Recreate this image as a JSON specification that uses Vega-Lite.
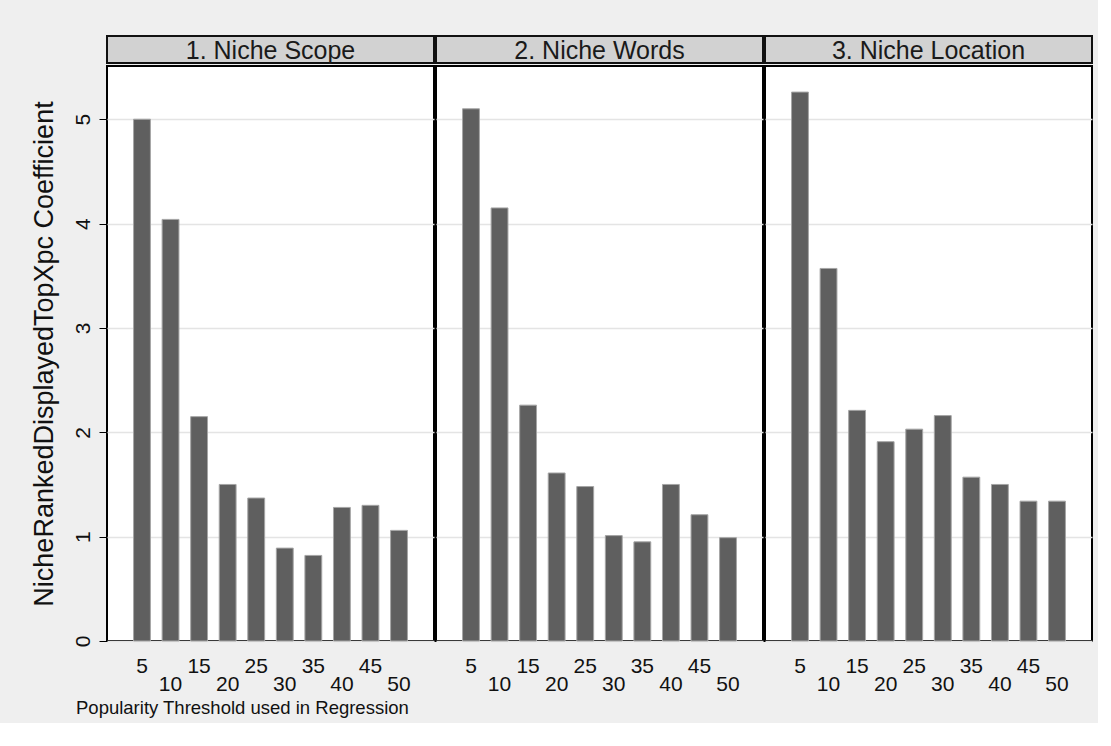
{
  "$schema": "https://vega.github.io/schema/vega-lite/v6.json",
  "background": "#efefef",
  "padding": {"left": 30, "top": 35, "right": 5, "bottom": 5},
  "config": {"font": "Liberation Sans", "view": {"stroke": null}},
  "datasets": {
    "panels": [
      {"panel": "1. Niche Scope"},
      {"panel": "2. Niche Words"},
      {"panel": "3. Niche Location"}
    ],
    "coef": [
      {"panel": "1. Niche Scope", "threshold": 5, "coef": 5.00},
      {"panel": "1. Niche Scope", "threshold": 10, "coef": 4.04},
      {"panel": "1. Niche Scope", "threshold": 15, "coef": 2.15},
      {"panel": "1. Niche Scope", "threshold": 20, "coef": 1.50},
      {"panel": "1. Niche Scope", "threshold": 25, "coef": 1.37},
      {"panel": "1. Niche Scope", "threshold": 30, "coef": 0.89},
      {"panel": "1. Niche Scope", "threshold": 35, "coef": 0.82},
      {"panel": "1. Niche Scope", "threshold": 40, "coef": 1.28},
      {"panel": "1. Niche Scope", "threshold": 45, "coef": 1.30},
      {"panel": "1. Niche Scope", "threshold": 50, "coef": 1.06},
      {"panel": "2. Niche Words", "threshold": 5, "coef": 5.10},
      {"panel": "2. Niche Words", "threshold": 10, "coef": 4.15},
      {"panel": "2. Niche Words", "threshold": 15, "coef": 2.26},
      {"panel": "2. Niche Words", "threshold": 20, "coef": 1.61},
      {"panel": "2. Niche Words", "threshold": 25, "coef": 1.48},
      {"panel": "2. Niche Words", "threshold": 30, "coef": 1.01},
      {"panel": "2. Niche Words", "threshold": 35, "coef": 0.95},
      {"panel": "2. Niche Words", "threshold": 40, "coef": 1.50},
      {"panel": "2. Niche Words", "threshold": 45, "coef": 1.21},
      {"panel": "2. Niche Words", "threshold": 50, "coef": 0.99},
      {"panel": "3. Niche Location", "threshold": 5, "coef": 5.26},
      {"panel": "3. Niche Location", "threshold": 10, "coef": 3.57},
      {"panel": "3. Niche Location", "threshold": 15, "coef": 2.21},
      {"panel": "3. Niche Location", "threshold": 20, "coef": 1.91},
      {"panel": "3. Niche Location", "threshold": 25, "coef": 2.03},
      {"panel": "3. Niche Location", "threshold": 30, "coef": 2.16},
      {"panel": "3. Niche Location", "threshold": 35, "coef": 1.57},
      {"panel": "3. Niche Location", "threshold": 40, "coef": 1.50},
      {"panel": "3. Niche Location", "threshold": 45, "coef": 1.34},
      {"panel": "3. Niche Location", "threshold": 50, "coef": 1.34}
    ]
  },
  "title": {
    "text": "Popularity Threshold used in Regression",
    "orient": "bottom",
    "anchor": "start",
    "frame": "bounds",
    "fontSize": 18.5,
    "fontWeight": "normal",
    "color": "#111111",
    "offset": 5,
    "dx": 46
  },
  "spacing": 0,
  "vconcat": [
    {
      "data": {"name": "panels"},
      "facet": {"column": {"field": "panel", "type": "nominal", "header": null}},
      "spacing": 0,
      "spec": {
        "width": 327,
        "height": 27,
        "view": {"fill": "#d2d2d2", "stroke": "#111111", "strokeWidth": 2},
        "mark": {"type": "text", "fontSize": 25, "color": "#1a1a1a", "dy": 1},
        "encoding": {"text": {"field": "panel", "type": "nominal"}}
      }
    },
    {
      "data": {"name": "coef"},
      "facet": {"column": {"field": "panel", "type": "nominal", "header": null}},
      "spacing": 0,
      "spec": {
        "width": 327,
        "height": 575,
        "view": {"fill": "#ffffff", "stroke": "#000000", "strokeWidth": 2},
        "mark": {"type": "bar", "color": "#5f5f5f", "stroke": "#a5a5a5", "strokeWidth": 1},
        "encoding": {
          "x": {
            "field": "threshold",
            "type": "ordinal",
            "scale": {"paddingInner": 0.41, "paddingOuter": 0.93},
            "axis": {
              "title": null,
              "labelAngle": 0,
              "ticks": false,
              "domain": false,
              "labelFontSize": 21,
              "labelColor": "#111111",
              "labelPadding": {"condition": {"test": "datum.value % 10 === 0", "value": 30}, "value": 12},
              "labelOverlap": false
            }
          },
          "y": {
            "field": "coef",
            "type": "quantitative",
            "scale": {"domain": [0, 5.51], "nice": false},
            "axis": {
              "values": [0, 1, 2, 3, 4, 5],
              "title": "NicheRankedDisplayedTopXpc Coefficient",
              "titleFontSize": 27,
              "titleFontWeight": "normal",
              "titleColor": "#111111",
              "titlePadding": 14,
              "labelAngle": -90,
              "labelFontSize": 21,
              "labelColor": "#111111",
              "labelPadding": 6,
              "tickSize": 7,
              "tickColor": "#000000",
              "domain": false,
              "grid": true,
              "gridColor": "#e4e4e4",
              "gridWidth": 1.5
            }
          }
        }
      }
    }
  ]
}
